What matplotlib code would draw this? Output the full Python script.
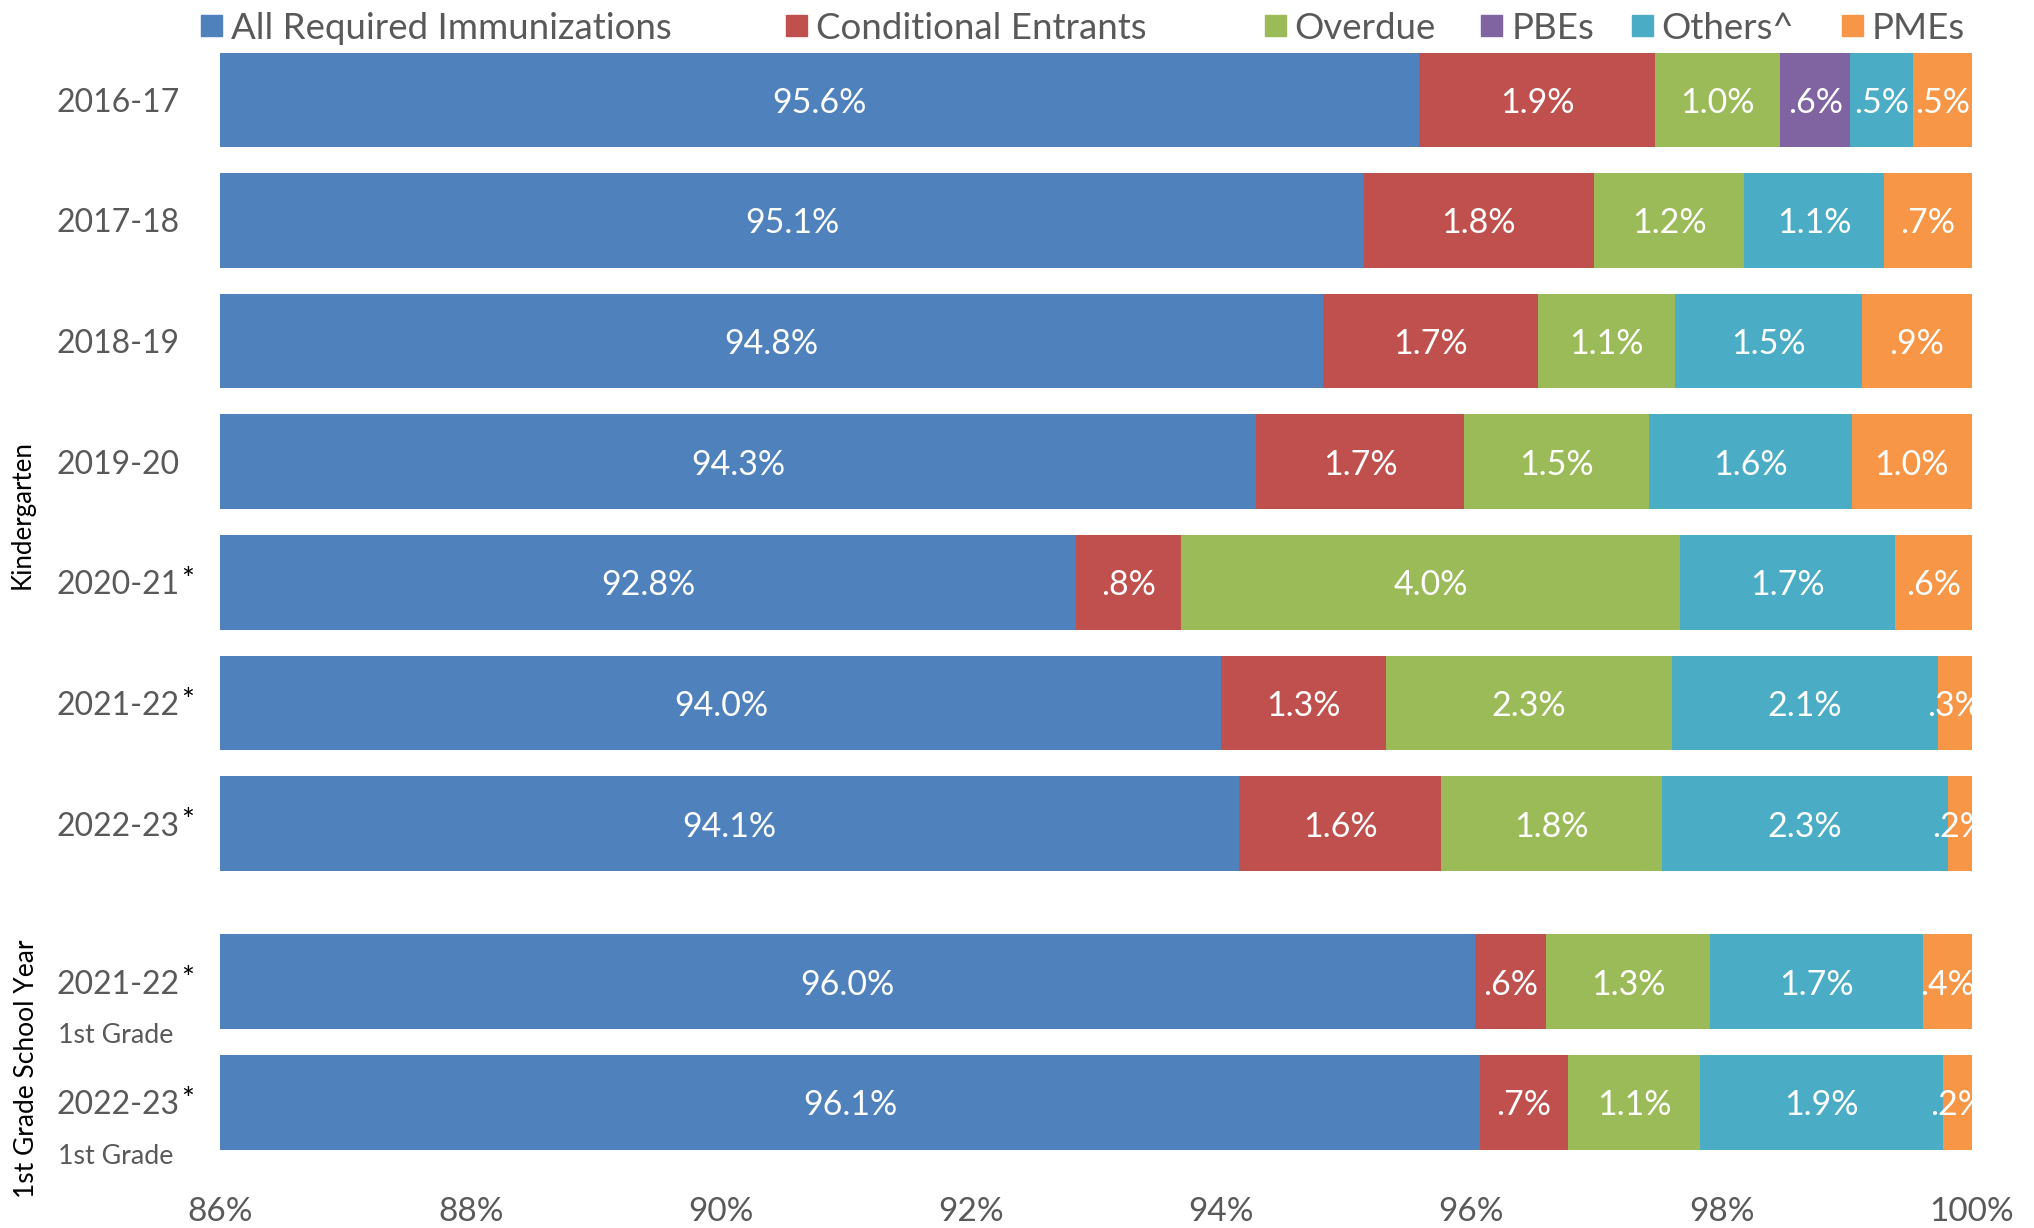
import matplotlib
matplotlib.use("Agg")
import matplotlib.pyplot as plt
import matplotlib.transforms as mtransforms
from matplotlib.patches import Rectangle
import numpy as np

plt.rcParams['font.family'] = ['Lato', 'DejaVu Sans']

# rows, top to bottom
years = ["2016-17", "2017-18", "2018-19", "2019-20", "2020-21", "2021-22", "2022-23", "2021-22", "2022-23"]
starred = [False, False, False, False, True, True, True, True, True]
first_grade = [False] * 7 + [True, True]

series = ["All Required Immunizations", "Conditional Entrants", "Overdue", "PBEs", "Others^", "PMEs"]
colors = ["#4F81BD", "#C0504D", "#9BBB59", "#8064A2", "#4BACC6", "#F79646"]

all_required = [95.58, 95.14, 94.81, 94.28, 92.84, 94.00, 94.14, 96.03, 96.07]
conditional = [1.89, 1.84, 1.72, 1.66, 0.84, 1.32, 1.62, 0.57, 0.70]
overdue = [1.00, 1.20, 1.10, 1.48, 3.99, 2.28, 1.76, 1.31, 1.06]
pbes = [0.56, 0, 0, 0, 0, 0, 0, 0, 0]
others = [0.50, 1.12, 1.49, 1.62, 1.72, 2.13, 2.29, 1.70, 1.94]
pmes = [0.47, 0.70, 0.88, 0.96, 0.61, 0.27, 0.19, 0.39, 0.23]

values = [all_required, conditional, overdue, pbes, others, pmes]

xmin, xmax = 86, 100
xticks = np.arange(86, 101, 2)


def fmt(v):
    s = f"{v:.1f}%"
    if s.startswith("0."):
        s = s[1:]
    return s


fig = plt.figure(figsize=(20.34, 12.28), dpi=100)
ax = fig.add_axes([0.1084, 0.0602, 0.861, 0.9007])

# gap between kindergarten and 1st grade groups
y = np.array([i + (0.31 if fg else 0) for i, fg in enumerate(first_grade)])
bar_h = 0.785

left = np.zeros(len(years))
for name, vals, col in zip(series, values, colors):
    vals = np.array(vals)
    ax.barh(y, vals, left=left, height=bar_h, color=col, label=name)
    for yi, l, v in zip(y, left, vals):
        if v <= 0:
            continue
        lo = max(l, xmin)
        ax.text((lo + l + v) / 2, yi, fmt(v), ha='center', va='center_baseline',
                color='white', fontsize=24.5)
    left = left + vals

ax.set_xlim(xmin, xmax)
ax.set_ylim(y[-1] + 0.43, -0.43)
ax.set_xticks(xticks)
ax.set_xticklabels([f"{t}%" for t in xticks], fontsize=24, color='#595959')
ax.tick_params(axis='x', length=0, pad=31)
ax.set_yticks([])
for s in ax.spines.values():
    s.set_visible(False)

# year labels
trans = mtransforms.blended_transform_factory(fig.transFigure, ax.transData)
for yi, yr, st, fg in zip(y, years, starred, first_grade):
    t = ax.text(0.058, yi, yr, transform=trans, ha='center', va='center_baseline',
                fontsize=23, color='#595959')
    if st:
        ax.annotate("*", xy=(1, 1), xycoords=t, xytext=(1, 3),
                    textcoords='offset points', ha='left', va='top',
                    fontsize=22, color='black')
    if fg:
        ax.text(0.0287, yi + 0.43, "1st Grade", transform=trans, ha='left',
                va='center_baseline', fontsize=19.3, color='#595959')

fig.text(0.0108, 0.581, "Kindergarten", rotation=90, ha='center', va='center',
         fontsize=18.6, color='black')
fig.text(0.0128, 0.130, "1st Grade School Year", rotation=90, ha='center',
         va='center', fontsize=19, color='black')

# legend drawn by hand to mimic the spacing
leg_x = [155, 606, 975, 1142, 1258, 1420]
sq_w, sq_h = 21 / 2034, 21 / 1228
leg_y = 0.9795
for xs, name, col in zip(leg_x, series, colors):
    x0 = xs / 1568
    fig.patches.append(Rectangle((x0, leg_y - sq_h / 2), sq_w, sq_h,
                                 transform=fig.transFigure, figure=fig,
                                 color=col))
    fig.text(x0 + 23 / 1568, leg_y, name, ha='left', va='center_baseline',
             fontsize=26.4, color='#595959')

fig.savefig("out.png", dpi=100)
